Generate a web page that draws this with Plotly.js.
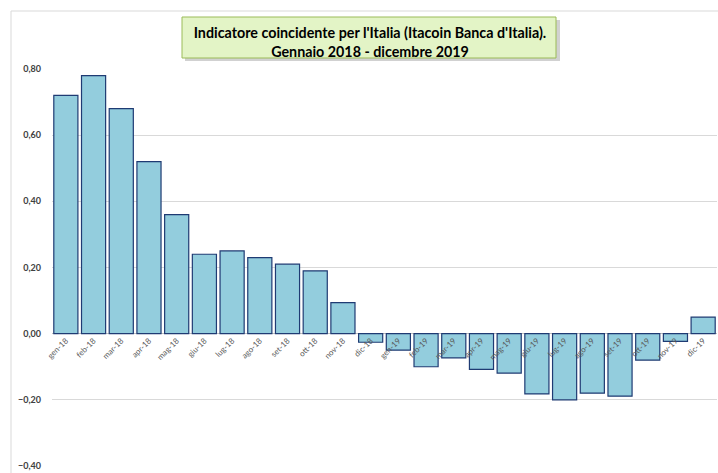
<!DOCTYPE html>
<html>
<head>
<meta charset="utf-8">
<script src="https://cdn.plot.ly/plotly-3.0.1.min.js"></script>
<style>
  html, body { margin: 0; padding: 0; background: #ffffff; }
  #chart { width: 718px; height: 473px; }
</style>
</head>
<body>
<div id="chart"></div>
<script>
// Data
const categories = [
  "gen-18","feb-18","mar-18","apr-18","mag-18","giu-18","lug-18","ago-18","set-18","ott-18","nov-18","dic-18",
  "gen-19","feb-19","mar-19","apr-19","mag-19","giu-19","lug-19","ago-19","set-19","ott-19","nov-19","dic-19"
];
const itacoin = [
  0.72, 0.78, 0.68, 0.52, 0.36, 0.24, 0.25, 0.23, 0.21, 0.19, 0.094, -0.026,
  -0.05, -0.10, -0.073, -0.108, -0.119, -0.182, -0.20, -0.18, -0.189, -0.08, -0.023, 0.05
];
const yTicks = [-0.4, -0.2, 0, 0.2, 0.4, 0.6, 0.8];
const titleText = "Indicatore coincidente per l'Italia (Itacoin Banca d'Italia).<br>Gennaio 2018 - dicembre 2019";

const W = 718, H = 473;
const mL = 52, mR = 1, mT = 69, mB = 7;
const plotW = W - mL - mR, plotH = H - mT - mB;
const px = x => (x - mL) / plotW;          // pixel x -> paper x
const py = y => (H - mB - y) / plotH;      // pixel y -> paper y

const trace = {
  type: 'bar',
  x: categories,
  y: itacoin,
  marker: { color: '#93CDDD', line: { color: '#1F3B73', width: 1.2 } },
  hoverinfo: 'x+y'
};

const layout = {
  width: W, height: H,
  margin: { l: mL, r: mR, t: mT, b: mB, pad: 0 },
  paper_bgcolor: '#ffffff',
  plot_bgcolor: '#ffffff',
  showlegend: false,
  bargap: 0.13,
  separators: ',.',
  font: { family: 'Lato, "Open Sans", sans-serif', color: '#595959' },
  title: {
    text: titleText,
    font: { family: 'Lato, "Open Sans", sans-serif', size: 14.3, color: '#000000', weight: 'bold' },
    x: 370 / W, xanchor: 'center', xref: 'container',
    y: 1 - 38 / H, yanchor: 'middle', yref: 'container'
  },
  xaxis: {
    type: 'category',
    anchor: 'free',
    position: (0 - (-0.4)) / (0.8 - (-0.4)),
    layer: 'above traces',
    tickangle: -45,
    tickfont: { size: 8, color: '#595959' },
    ticks: '',
    showline: false,
    showgrid: false,
    zeroline: false,
    fixedrange: true
  },
  yaxis: {
    range: [-0.4, 0.8],
    tickvals: yTicks,
    tickformat: '.2f',
    tickfont: { size: 9, color: '#404040', weight: 'bold' },
    ticks: '',
    ticklabelstandoff: 10,
    showgrid: true,
    gridcolor: '#D9D9D9',
    gridwidth: 1,
    zeroline: true,
    zerolinecolor: '#BFBFBF',
    zerolinewidth: 1.5,
    showline: false,
    fixedrange: true
  },
  shapes: [
    // outer chart border (left/top visible)
    { type: 'rect', xref: 'paper', yref: 'paper', layer: 'below',
      x0: px(11), x1: px(730), y0: py(490), y1: py(11),
      line: { color: '#D9D9D9', width: 1 }, fillcolor: 'rgba(0,0,0,0)' },
    // title box shadow
    { type: 'rect', xref: 'paper', yref: 'paper', layer: 'above',
      x0: px(185), x1: px(560), y0: py(61), y1: py(20),
      line: { width: 0 }, fillcolor: 'rgba(0,0,0,0.18)' },
    // title box
    { type: 'rect', xref: 'paper', yref: 'paper', layer: 'above',
      x0: px(182), x1: px(556), y0: py(58), y1: py(17),
      line: { color: '#9BBB59', width: 1 }, fillcolor: '#E3F4C6' }
  ]
};

Plotly.newPlot('chart', [trace], layout, { displayModeBar: false, staticPlot: true });
</script>
</body>
</html>
